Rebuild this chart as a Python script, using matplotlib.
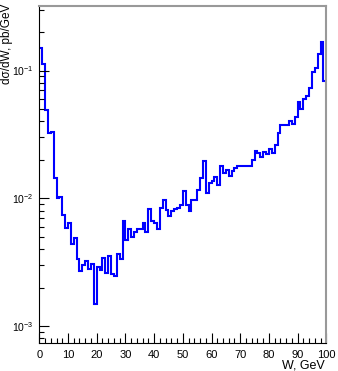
import numpy as np
import matplotlib
matplotlib.use("Agg")
import matplotlib.pyplot as plt
from matplotlib.ticker import LogLocator, MultipleLocator, NullFormatter

plt.rcParams['font.family'] = ['Liberation Sans', 'DejaVu Sans']
plt.rcParams['mathtext.fontset'] = 'custom'
plt.rcParams['mathtext.rm'] = 'Liberation Sans'
plt.rcParams['mathtext.it'] = 'Liberation Sans:italic'

# Histogram: W from 0 to 100 GeV, 1 GeV bins
bin_edges = list(range(0, 101))
dsigma_dW = [
    0.151, 0.113, 0.0493, 0.0324, 0.0328, 0.0144, 0.0101, 0.0103, 0.00736, 0.00585,
    0.00638, 0.00435, 0.00491, 0.00332, 0.00270, 0.00300, 0.00320, 0.00280, 0.00306, 0.00150,
    0.00288, 0.00273, 0.00338, 0.00260, 0.00350, 0.00254, 0.00245, 0.00364, 0.00332, 0.00662,
    0.00474, 0.00575, 0.00500, 0.00545, 0.00575, 0.00575, 0.00635, 0.00542, 0.00818, 0.00662,
    0.00646, 0.00570, 0.00840, 0.00965, 0.00810, 0.00727, 0.00797, 0.00818, 0.00832, 0.00878,
    0.0114, 0.00886, 0.00790, 0.00968, 0.00968, 0.0116, 0.0143, 0.0195, 0.0109, 0.0131,
    0.0136, 0.0147, 0.0126, 0.0180, 0.0159, 0.0165, 0.0150, 0.0163, 0.0174, 0.0180,
    0.0180, 0.0180, 0.0180, 0.0180, 0.0201, 0.0236, 0.0228, 0.0210, 0.0230, 0.0223,
    0.0241, 0.0228, 0.0263, 0.0324, 0.0377, 0.0377, 0.0373, 0.0400, 0.0381, 0.0433,
    0.0562, 0.0499, 0.0598, 0.0627, 0.0729, 0.0972, 0.1044, 0.134, 0.167, 0.0831,
]
x_ticks = [0, 10, 20, 30, 40, 50, 60, 70, 80, 90, 100]
x_title = "W, GeV"
y_title = "d\u03c3/dW, pb/GeV"

W, H = 338, 371
fig = plt.figure(figsize=(W / 100, H / 100), dpi=100)
left, right, top, bottom = 39.3, 326.3, 6.0, 342.7
ax = fig.add_axes([left / W, (H - bottom) / H, (right - left) / W, (bottom - top) / H])

ax.stairs(dsigma_dW, bin_edges, color='#0000ff', lw=1.5, baseline=None)

ax.set_yscale('log')
ax.set_xlim(0, 100)
ax.set_ylim(7.4e-4, 0.32)

ax.set_xticks(x_ticks)
ax.set_xticklabels([str(t) for t in x_ticks])
ax.xaxis.set_minor_locator(MultipleLocator(2))
ax.yaxis.set_major_locator(LogLocator(base=10))
ax.yaxis.set_minor_locator(LogLocator(base=10, subs=np.arange(2, 10)))
ax.yaxis.set_minor_formatter(NullFormatter())

ax.tick_params(which='both', direction='in', top=False, right=False, colors='black',
               width=0.8)
ax.tick_params(axis='x', which='major', length=7, pad=5, labelsize=8)
ax.tick_params(axis='x', which='minor', length=3.5)
ax.tick_params(axis='y', which='major', length=7, pad=4, labelsize=7.5)
ax.tick_params(axis='y', which='minor', length=3.5)

for s in ['left', 'bottom']:
    ax.spines[s].set_color('black')
    ax.spines[s].set_linewidth(0.8)
for s in ['top', 'right']:
    ax.spines[s].set_color('#999999')
    ax.spines[s].set_linewidth(1.5)

fig.text(325 / W, 1 - 366 / H, x_title, ha='right', va='center', fontsize=9)
fig.text(7.5 / W, 1 - 4 / H, y_title, ha='center', va='top', rotation=90, fontsize=8.5)

fig.savefig('out.png', dpi=100)
